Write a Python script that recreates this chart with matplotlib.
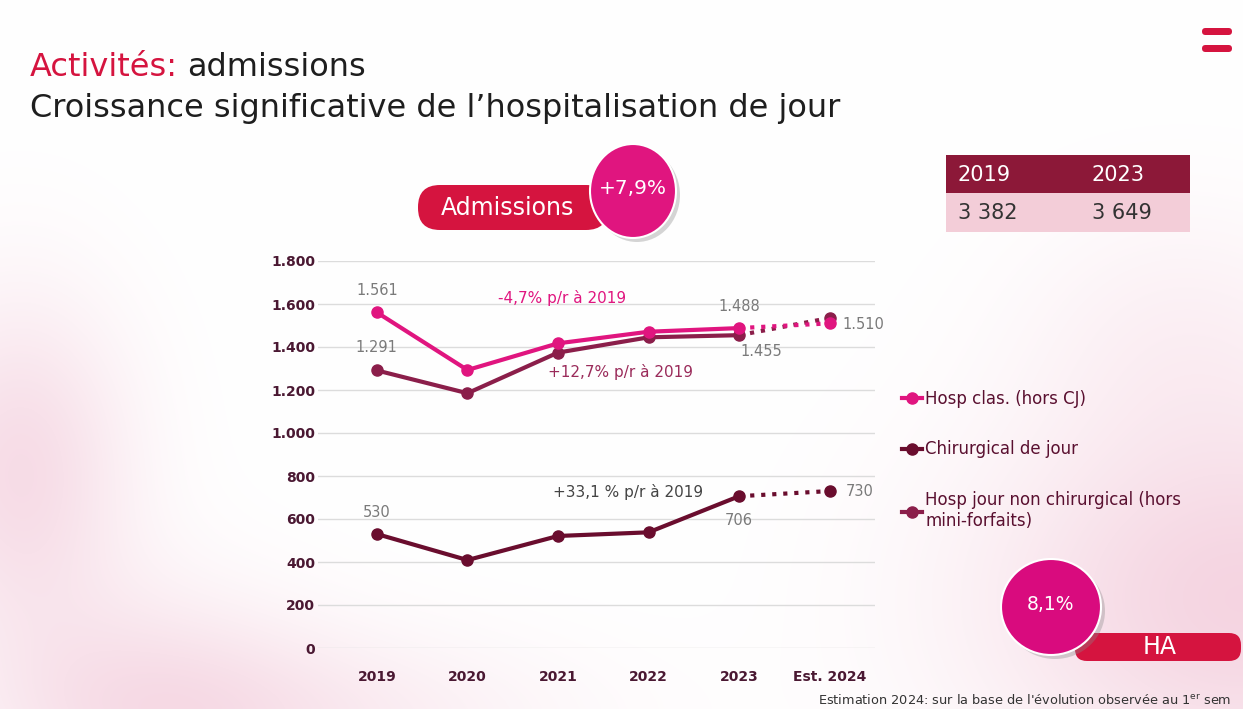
import numpy as np
import matplotlib
matplotlib.use('Agg')
import matplotlib.pyplot as plt
from matplotlib.patches import FancyBboxPatch, Ellipse, Rectangle
from matplotlib.ticker import FuncFormatter

plt.rcParams['font.family'] = ['DejaVu Sans']

# donnees
annees = ['2019', '2020', '2021', '2022', '2023', 'Est. 2024']
hosp_clas = [1561, 1293, 1417, 1471, 1488]
hosp_clas_est = 1510
hosp_jour_nc = [1291, 1185, 1374, 1445, 1455]
hosp_jour_nc_est = 1535
chir_jour = [530, 409, 521, 538, 706]
chir_jour_est = 730
table_annees = ['2019', '2023']
table_admissions = ['3 382', '3 649']

ROSE = '#E0157F'
BORDEAUX = '#8B1E4A'
BORDEAUX_FONCE = '#6A0D2E'
ROUGE = '#D5143F'
TXT = '#4A1832'

W, H = 1243, 709
fig = plt.figure(figsize=(W / 100, H / 100), dpi=100)

# fond en pixels
bg = fig.add_axes([0, 0, 1, 1], zorder=0)
bg.set_xlim(0, W)
bg.set_ylim(H, 0)
bg.axis('off')

# leger degrade rose en fond
xx, yy = np.meshgrid(np.arange(W), np.arange(H))
poids = np.zeros((H, W))
for x0, y0, sx, sy, a in [(20, 470, 110, 170, 0.45), (1243, 600, 260, 190, 0.55),
                          (300, 720, 260, 90, 0.25), (1180, 330, 160, 130, 0.15),
                          (150, 700, 160, 120, 0.3)]:
    poids += a * np.exp(-((xx - x0) ** 2 / sx ** 2 + (yy - y0) ** 2 / sy ** 2))
poids = np.clip(poids, 0, 0.6)
rose_fond = np.array([0.93, 0.70, 0.79])
img = np.ones((H, W, 3)) * (1 - poids[..., None]) + rose_fond * poids[..., None]
bg.imshow(img, extent=(0, W, H, 0), aspect='auto', zorder=0)

# titre
t1 = bg.text(30, 67, 'Activités:', fontsize=23, color=ROUGE, va='center', ha='left')
fig.canvas.draw()
bb = t1.get_window_extent()
bg.text(30 + bb.width + 9, 67, 'admissions', fontsize=23, color='#1E1E1E', va='center', ha='left')
bg.text(30, 108, 'Croissance significative de l\u2019hospitalisation de jour', fontsize=23,
        color='#1E1E1E', va='center', ha='left')

# icone menu
for y in (28, 45):
    bg.add_patch(FancyBboxPatch((1202, y), 30, 7, boxstyle='round,pad=0,rounding_size=3.5',
                                fc=ROUGE, ec='none', zorder=2))

# pastille Admissions
bg.add_patch(FancyBboxPatch((418, 185), 190, 45, boxstyle='round,pad=0,rounding_size=22',
                            fc=ROUGE, ec='none', zorder=2))
bg.text(508, 208, 'Admissions', fontsize=17, color='white', ha='center', va='center', zorder=3)
bg.add_patch(Ellipse((637, 195), 86, 94, fc='#888888', ec='none', alpha=0.35, zorder=3))
bg.add_patch(Ellipse((633, 191), 86, 94, fc=ROSE, ec='white', lw=1.5, zorder=4))
bg.text(633, 188, '+7,9%', fontsize=14.5, color='white', ha='center', va='center', zorder=5)

# tableau
bg.add_patch(Rectangle((946, 155), 244, 38, fc='#8C1838', ec='none', zorder=2))
bg.add_patch(Rectangle((946, 193), 244, 39, fc='#F3CDD8', ec='none', zorder=2))
for i, (a, v) in enumerate(zip(table_annees, table_admissions)):
    x = 958 + i * 134
    bg.text(x, 175, a, fontsize=15, color='white', ha='left', va='center', zorder=3)
    bg.text(x, 213, v, fontsize=15, color='#333333', ha='left', va='center', zorder=3)

# pastille HA
bg.add_patch(FancyBboxPatch((1075, 633), 166, 28, boxstyle='round,pad=0,rounding_size=12',
                            fc=ROUGE, ec='none', zorder=2))
bg.text(1160, 647, 'HA', fontsize=17, color='white', ha='center', va='center', zorder=3)
bg.add_patch(Ellipse((1055, 611), 100, 96, fc='#888888', ec='none', alpha=0.35, zorder=3))
bg.add_patch(Ellipse((1051, 607), 100, 96, fc='#D90B7E', ec='white', lw=1.5, zorder=4))
bg.text(1051, 605, '8,1%', fontsize=13.5, color='white', ha='center', va='center', zorder=5)

# note de bas de page
bg.text(818, 701, "Estimation 2024: sur la base de l'évolution observée au 1$^{\\rm er}$ sem",
        fontsize=9.3, color='#333333', ha='left', va='center')

# graphique
ax = fig.add_axes([318 / W, 1 - 648 / H, 557 / W, (648 - 261) / H], zorder=1)
ax.patch.set_visible(False)
x = np.arange(len(annees))
xr = x[:5]

l1, = ax.plot(xr, hosp_clas, color=ROSE, lw=3, marker='o', ms=8, label='Hosp clas. (hors CJ)',
              zorder=4, clip_on=False)
l3, = ax.plot(xr, hosp_jour_nc, color=BORDEAUX, lw=3, marker='o', ms=8,
              label='Hosp jour non chirurgical (hors\nmini-forfaits)', zorder=3, clip_on=False)
l2, = ax.plot(xr, chir_jour, color=BORDEAUX_FONCE, lw=3, marker='o', ms=8,
              label='Chirurgical de jour', zorder=3, clip_on=False)

ax.plot([x[4], x[5]], [hosp_jour_nc[-1], hosp_jour_nc_est], color=BORDEAUX, lw=3, ls=':',
        marker='o', ms=8, markevery=[1], zorder=3, clip_on=False)
ax.plot([x[4], x[5]], [hosp_clas[-1], hosp_clas_est], color=ROSE, lw=3, ls=':',
        marker='o', ms=8, markevery=[1], zorder=4, clip_on=False)
ax.plot([x[4], x[5]], [chir_jour[-1], chir_jour_est], color=BORDEAUX_FONCE, lw=3, ls=':',
        marker='o', ms=8, markevery=[1], zorder=3, clip_on=False)

ax.set_xlim(-0.65, 5.5)
ax.set_ylim(0, 1800)
ax.set_yticks(np.arange(0, 1801, 200))
ax.yaxis.set_major_formatter(FuncFormatter(lambda v, p: f'{int(v):,}'.replace(',', '.')))
ax.set_xticks(x)
ax.set_xticklabels(annees)
ax.grid(axis='y', color='#DCDCDC', lw=1)
ax.set_axisbelow(True)
for s in ax.spines.values():
    s.set_visible(False)
ax.tick_params(length=0, labelsize=10, labelcolor=TXT)
ax.tick_params(axis='x', pad=16)
ax.tick_params(axis='y', pad=2)
for lab in ax.get_xticklabels() + ax.get_yticklabels():
    lab.set_fontweight('bold')

# etiquettes de valeurs
gris = '#7A7A7A'
def etiquette(xv, yv, txt, dx, dy, ha='center'):
    ax.annotate(txt, (xv, yv), xytext=(dx, dy), textcoords='offset pixels', ha=ha,
                va='center', fontsize=10.5, color=gris)

etiquette(0, hosp_clas[0], '1.561', 0, 22)
etiquette(0, hosp_jour_nc[0], '1.291', 0, 23)
etiquette(4, hosp_clas[4], '1.488', 0, 22)
etiquette(4, hosp_jour_nc[4], '1.455', 22, -16)
etiquette(5, hosp_clas_est, '1.510', 13, -1, ha='left')
etiquette(0, chir_jour[0], '530', 0, 22)
etiquette(4, chir_jour[4], '706', 0, -24)
etiquette(5, chir_jour_est, '730', 16, 0, ha='left')

ax.text(2.05, 1628, '-4,7% p/r à 2019', color=ROSE, fontsize=11, ha='center', va='center')
ax.text(2.69, 1284, '+12,7% p/r à 2019', color='#9A2B5A', fontsize=11, ha='center', va='center')
ax.text(2.77, 726, '+33,1 % p/r à 2019', color='#444444', fontsize=11, ha='center', va='center')

fig.legend(handles=[l1, l2, l3], loc='upper left', bbox_to_anchor=(902 / W, 1 - 390 / H),
           frameon=False, fontsize=12, labelcolor='#5A1030', handlelength=1.2,
           handletextpad=0.2, labelspacing=1.95, borderpad=0, borderaxespad=0, numpoints=1)

fig.savefig('out.png', dpi=100)
